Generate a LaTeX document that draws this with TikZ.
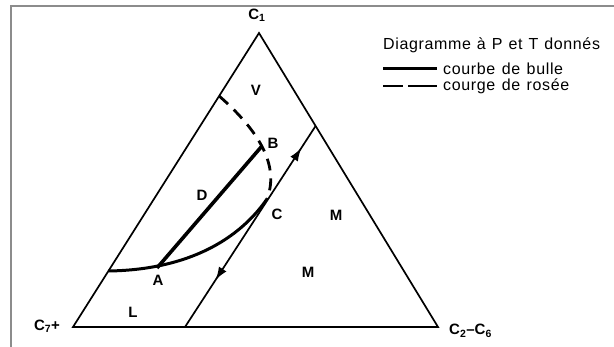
\documentclass[tikz,border=0pt]{standalone}
\usepackage{fontspec}
\setmainfont{Liberation Sans}
\newfontfamily\legendfont[LetterSpace=4]{Liberation Sans}
\newcommand\legtitre{\fontsize{16}{18}\legendfont\spaceskip=6pt\relax}
\newcommand\legtexte{\fontsize{16}{18}\legendfont\spaceskip=6.5pt\relax}
\usetikzlibrary{arrows.meta,decorations.markings}

\begin{document}
\begin{tikzpicture}[x=1pt, y=-1pt,
    edge/.style={line width=1.7pt},
    bulle/.style={line width=3pt},
    rosee/.style={line width=2.8pt, dash pattern=on 12pt off 8pt},
    zone/.style={font=\fontsize{15}{17}\selectfont\bfseries, inner sep=0pt},
    comp/.style={font=\fontsize{15}{17}\selectfont\bfseries, inner sep=0pt},
    legend/.style={font=\legtexte, anchor=west, inner sep=0pt},
    fleche/.tip={Latex[length=13pt,width=9pt]}
]
\useasboundingbox (0,0) rectangle (614,347);
\draw[black!45, line width=1.3pt] (620,6) -- (11,6) -- (11,355);

\coordinate (top) at (259,33);
\coordinate (left) at (73,327);
\coordinate (right) at (438,327);
\coordinate (inbot) at (185,327);
\coordinate (intop) at (315.6,126);
\coordinate (lq) at (108.4,271);
\coordinate (dq) at (219.1,96);
\coordinate (A) at (157,268);
\coordinate (B) at (262,146);
\coordinate (C) at (267,199);

\draw[edge, line join=miter] (left) -- (top) -- (right) -- cycle;
\draw[edge, postaction={decorate}, decoration={markings,
    mark=at position 0.89 with {\arrow{fleche}},
    mark=at position 0.234 with {\arrowreversed{fleche}}}] (inbot) -- (intop);

\draw[bulle] (lq) .. controls (180,270) and (235,245) .. (C);
\draw[bulle, line width=3.6pt] (A) -- (B);
\draw[rosee] (dq) .. controls (258,130) and (280,165) .. (C);

\node[comp] (c1) at (257,15) {C\textsubscript{1}};
\node[comp] (c7) at (47,326) {C\textsubscript{7}+};
\node[comp, anchor=west] (c26) at (449,331) {C\textsubscript{2}--C\textsubscript{6}};

\node[zone] (lV) at (256,90) {V};
\node[zone] (lB) at (273,143) {B};
\node[zone] (lD) at (202,195) {D};
\node[zone] (lC) at (277,214) {C};
\node[zone] (lM1) at (336,215) {M};
\node[zone] (lM2) at (308,272) {M};
\node[zone] (lA) at (158,280) {A};
\node[zone] (lL) at (133,312) {L};

\node[legend, font=\legtitre] (titre) at (383,45) {Diagramme à P et T donnés};
\coordinate (s1) at (383,69);
\coordinate (s2) at (383,86);
\node[legend] (t1) at (443,69) {courbe de bulle};
\node[legend] (t2) at (443,86) {courge de rosée};
\draw[bulle] (s1) -- ([xshift=-6pt]t1.west);
\draw[line width=2.8pt, dash pattern=on 20pt off 5pt on 40pt off 5pt] (s2) -- ([xshift=-6pt]t2.west);
\end{tikzpicture}
\end{document}
